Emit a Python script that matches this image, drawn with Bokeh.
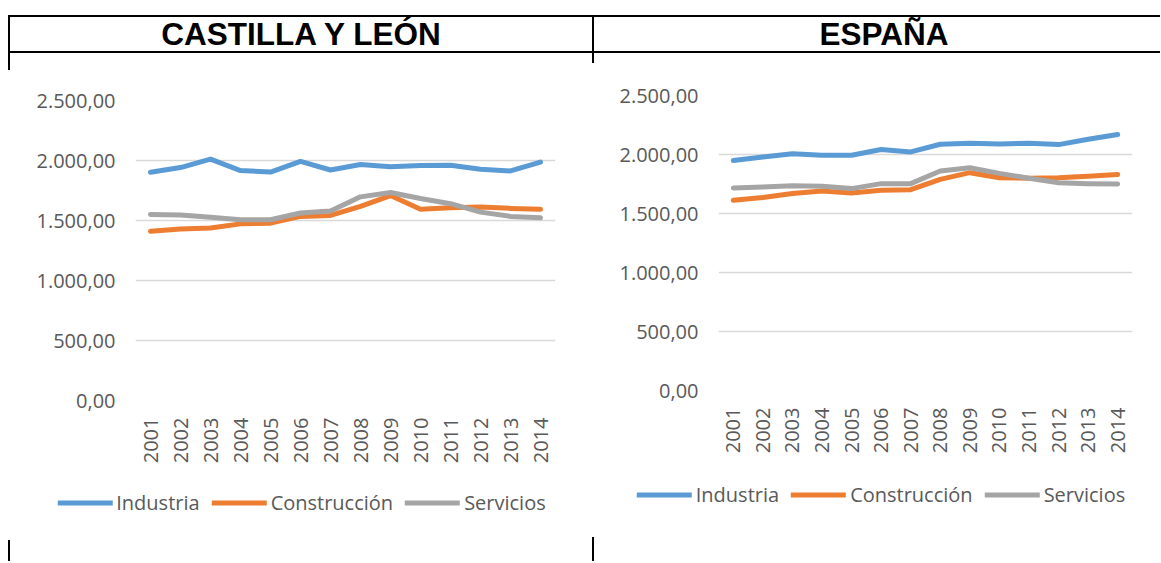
import math
from bokeh.plotting import figure
from bokeh.models import (FactorRange, Range1d, FixedTicker, Legend, LegendItem, Div, Spacer)
from bokeh.layouts import row, column
from bokeh.embed import file_html
from bokeh.resources import INLINE

years = ["2001", "2002", "2003", "2004", "2005", "2006", "2007",
         "2008", "2009", "2010", "2011", "2012", "2013", "2014"]

# Castilla y León
cyl_industria = [1902, 1941, 2011, 1916, 1904, 1992, 1921, 1966, 1947, 1958, 1961, 1927, 1913, 1986]
cyl_construccion = [1410, 1430, 1438, 1472, 1478, 1534, 1542, 1618, 1708, 1593, 1607, 1612, 1601, 1593]
cyl_servicios = [1551, 1545, 1528, 1506, 1506, 1562, 1579, 1697, 1733, 1683, 1640, 1570, 1534, 1522]

# España
esp_industria = [1949, 1978, 2006, 1994, 1994, 2042, 2022, 2087, 2095, 2090, 2095, 2084, 2129, 2169]
esp_construccion = [1612, 1635, 1669, 1691, 1674, 1697, 1702, 1789, 1846, 1803, 1798, 1803, 1815, 1831]
esp_servicios = [1716, 1725, 1736, 1730, 1711, 1753, 1753, 1860, 1888, 1840, 1798, 1761, 1753, 1750]

series_names = ["Industria", "Construcción", "Servicios"]
series_colors = ["#5B9BD5", "#ED7D31", "#A5A5A5"]

y_ticks = [0, 500, 1000, 1500, 2000, 2500]
y_tick_labels = ["0,00", "500,00", "1.000,00", "1.500,00", "2.000,00", "2.500,00"]

titles = ["CASTILLA Y LEÓN", "ESPAÑA"]

FONT = "Open Sans"
TXT = "#595959"
FS = "20px"


def make_chart(series, width, height, mb_left, mb_right, mb_top, mb_bottom, xlab_standoff):
    p = figure(x_range=FactorRange(factors=years), y_range=Range1d(0, 2500),
               width=width, height=height, output_backend="svg",
               toolbar_location=None, min_border_left=mb_left,
               min_border_right=mb_right, min_border_top=mb_top,
               min_border_bottom=mb_bottom, outline_line_color=None,
               background_fill_color="white", border_fill_color="white")
    for vals, c in zip(series, series_colors):
        p.line(years, vals, line_color=c, line_width=5,
               line_join="round", line_cap="round")
    p.xgrid.visible = False
    p.ygrid.grid_line_color = "#D9D9D9"
    p.ygrid.grid_line_width = 1.5
    p.yaxis.ticker = FixedTicker(ticks=y_ticks)
    p.yaxis.major_label_overrides = {t: l for t, l in zip(y_ticks, y_tick_labels)}
    for ax in (p.xaxis[0], p.yaxis[0]):
        ax.axis_line_color = None
        ax.major_tick_line_color = None
        ax.minor_tick_line_color = None
        ax.major_tick_out = 0
        ax.major_tick_in = 0
        ax.major_label_text_font = FONT
        ax.major_label_text_font_size = FS
        ax.major_label_text_color = TXT
    p.yaxis.major_label_standoff = 20
    p.xaxis.major_label_standoff = xlab_standoff
    p.xaxis.major_label_orientation = math.pi / 2
    return p


def make_legend(series, width, height):
    # a strip that only shows the legend; the series lie outside its visible y range
    p = figure(x_range=FactorRange(factors=years), y_range=Range1d(-2, -1),
               width=width, height=height,
               output_backend="svg", toolbar_location=None, min_border=0,
               min_border_left=0, min_border_right=0, min_border_top=0, min_border_bottom=0,
               outline_line_color=None, background_fill_color="white",
               border_fill_color="white")
    p.axis.visible = False
    p.grid.visible = False
    items = []
    for vals, n, c in zip(series, series_names, series_colors):
        r = p.line(years, vals, line_color=c, line_width=5, line_cap="round")
        items.append(LegendItem(label=n, renderers=[r]))
    leg = Legend(items=items, orientation="horizontal", location="center",
                 glyph_width=55, glyph_height=20, label_height=20,
                 label_standoff=4, spacing=12, padding=0, margin=0,
                 border_line_color=None, background_fill_alpha=0,
                 label_text_font=FONT, label_text_font_size=FS,
                 label_text_color=TXT)
    p.add_layout(leg)
    return p


cyl = [cyl_industria, cyl_construccion, cyl_servicios]
esp = [esp_industria, esp_construccion, esp_servicios]

p1 = make_chart(cyl, 582, 422, 125, 37, 47, 75, 17)
p2 = make_chart(esp, 556, 414, 124, 18, 42, 77, 17)
leg1 = make_legend(cyl, 581, 54)
leg2 = make_legend(esp, 538, 54)


def header(text, width, pad_left, left_border):
    html = ('<div style="width:%dpx;height:38px;box-sizing:border-box;'
            'border-top:2px solid #000;border-bottom:2px solid #000;%s'
            'display:flex;align-items:center;justify-content:center;padding-left:%dpx;'
            'font-family:\'Liberation Sans\';font-weight:bold;font-size:31.5px;color:#000;">%s</div>'
            % (width, "border-left:2px solid #000;" if left_border else "", pad_left, text))
    return Div(text=html, width=width, height=38, margin=0)


def vline(top_h, bottom_h, h=508):
    html = ('<div style="position:relative;width:2px;height:%dpx;">'
            '<div style="position:absolute;left:0;top:0;width:2px;height:%dpx;background:#000;"></div>'
            '<div style="position:absolute;left:0;bottom:0;width:2px;height:%dpx;background:#000;"></div>'
            '</div>' % (h, top_h, bottom_h))
    return Div(text=html, width=2, height=h, margin=0)


h1 = header(titles[0], 584, 0, True)
h2 = header(titles[1], 568, 14, True)

left_cell = column(p1, row(Spacer(width=1, height=54, margin=0), leg1, spacing=0), spacing=0)
right_cell = column(p2, row(Spacer(width=18, height=54, margin=0), leg2, spacing=0), spacing=0)

body = row(vline(17, 21), left_cell, vline(10, 24), right_cell, spacing=0)

layout = row(
    Spacer(width=8, height=10, margin=0),
    column(Spacer(width=10, height=15, margin=0), row(h1, h2, spacing=0), body, spacing=0),
    spacing=0,
)

open("out.html", "w").write(file_html(layout, INLINE))
